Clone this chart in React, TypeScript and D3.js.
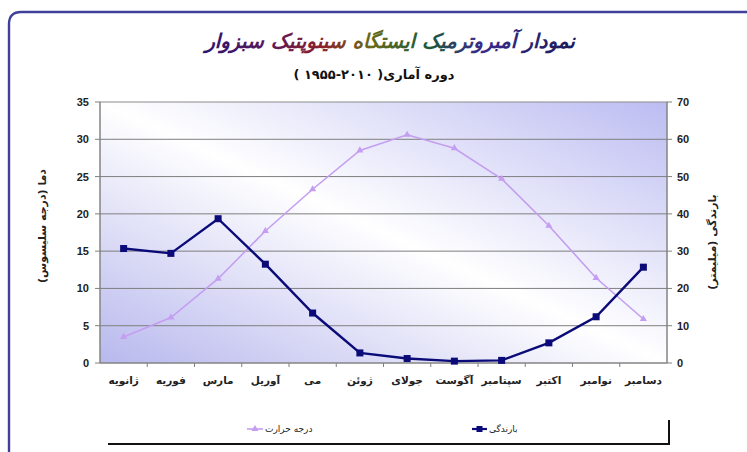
import React from "react";
import * as d3 from "d3";

const months = ["ژانویه", "فوریه", "مارس", "آوریل", "می", "ژوئن", "جولای", "آگوست", "سپتامبر", "اکتبر", "نوامبر", "دسامبر"];
const temperature = [3.5, 6.1, 11.3, 17.7, 23.3, 28.5, 30.6, 28.8, 24.7, 18.4, 11.4, 5.9];
const precipitation = [30.7, 29.4, 38.7, 26.5, 13.4, 2.7, 1.2, 0.5, 0.7, 5.4, 12.4, 25.7];
const leftTicks = [0, 5, 10, 15, 20, 25, 30, 35];
const rightTicks = [0, 10, 20, 30, 40, 50, 60, 70];
const title = "نمودار آمبروترمیک ایستگاه سینوپتیک سبزوار";
const subtitle = "دوره آماری( ۲۰۱۰-۱۹۵۵ )";
const leftTitle = "دما (درجه سلیسوس)";
const rightTitle = "بارندگی (میلیمتر)";
const legendTemp = "درجه حرارت";
const legendPrec = "بارندگی";

const W = 747, H = 452;
const L = 100, R = 667, T = 102, B = 363;
const fa = "'DejaVu Sans', sans-serif";
const num = "'Liberation Sans', Arial, sans-serif";

export default function App() {
  const x = d3.scaleBand<string>().domain(months).range([L, R]);
  const yL = d3.scaleLinear().domain([0, 35]).range([B, T]);
  const yR = d3.scaleLinear().domain([0, 70]).range([B, T]);
  const cx = (m: string) => (x(m) as number) + x.bandwidth() / 2;
  const tLine = d3.line<number>().x((_, i) => cx(months[i])).y((d) => yL(d));
  const pLine = d3.line<number>().x((_, i) => cx(months[i])).y((d) => yR(d));
  const tri = d3.symbol().type(d3.symbolTriangle).size(22);
  const tempColor = "#c49ef0";
  const precColor = "#0a0a78";

  return (
    <svg width={W} height={H} style={{ position: "absolute", left: 0, top: 0, background: "#fff" }}>
      <defs>
        <linearGradient id="bg" x1="0" y1="1" x2="1" y2="0">
          <stop offset="0" stopColor="#b8b8ee" />
          <stop offset="0.5" stopColor="#ffffff" />
          <stop offset="1" stopColor="#bcbcf2" />
        </linearGradient>
        <linearGradient id="tg" x1="0" y1="0" x2="1" y2="0">
          <stop offset="0" stopColor="#2a1670" />
          <stop offset="0.18" stopColor="#5a1a5a" />
          <stop offset="0.32" stopColor="#8a1f2c" />
          <stop offset="0.45" stopColor="#6a6a1a" />
          <stop offset="0.6" stopColor="#1f5a3a" />
          <stop offset="0.75" stopColor="#3a2a8a" />
          <stop offset="1" stopColor="#1a1a5a" />
        </linearGradient>
      </defs>
      <path d={`M${W},12 L21,12 Q9,12 9,24 L9,${H + 5}`} fill="none" stroke="#40409a" strokeWidth={2.4} />

      <text x={390} y={48} textAnchor="middle" direction="rtl" fontFamily={fa} fontWeight="bold" fontStyle="italic" fontSize={20} fill="url(#tg)">{title}</text>
      <text x={374} y={79} textAnchor="middle" direction="rtl" fontFamily={fa} fontWeight="bold" fontSize={13} fill="#111">{subtitle}</text>

      <rect x={L} y={T} width={R - L} height={B - T} fill="url(#bg)" stroke="#8c8c8c" strokeWidth={1} />
      {leftTicks.slice(1, -1).map((t) => (
        <line key={"g" + t} x1={L} x2={R} y1={yL(t)} y2={yL(t)} stroke="#7f7f7f" strokeWidth={1} />
      ))}
      <line x1={L} x2={L} y1={T} y2={B} stroke="#808080" />
      <line x1={R} x2={R} y1={T} y2={B} stroke="#808080" />
      <line x1={L} x2={R} y1={B} y2={B} stroke="#808080" />
      {leftTicks.map((t) => (
        <g key={"l" + t}>
          <line x1={L - 5} x2={L} y1={yL(t)} y2={yL(t)} stroke="#808080" />
          <text x={L - 11} y={yL(t) + 4} textAnchor="end" fontFamily={num} fontWeight="bold" fontSize={11} fill="#222">{t}</text>
        </g>
      ))}
      {rightTicks.map((t) => (
        <g key={"r" + t}>
          <line x1={R} x2={R + 5} y1={yR(t)} y2={yR(t)} stroke="#808080" />
          <text x={R + 10} y={yR(t) + 4} textAnchor="start" fontFamily={num} fontWeight="bold" fontSize={11} fill="#222">{t}</text>
        </g>
      ))}
      {months.map((m, i) => (
        <g key={"m" + i}>
          {i > 0 && <line x1={x(m)} x2={x(m)} y1={B} y2={B + 4} stroke="#808080" />}
          <text x={cx(m)} y={384} textAnchor="middle" direction="rtl" fontFamily={fa} fontWeight="bold" fontSize={10.5} fill="#222">{m}</text>
        </g>
      ))}

      <text transform={`translate(46,226) rotate(-90)`} textAnchor="middle" direction="rtl" fontFamily={fa} fontWeight="bold" fontSize={11} fill="#222">{leftTitle}</text>
      <text transform={`translate(716,242) rotate(-90)`} textAnchor="middle" direction="rtl" fontFamily={fa} fontWeight="bold" fontSize={11} fill="#222">{rightTitle}</text>

      <path d={tLine(temperature) as string} fill="none" stroke={tempColor} strokeWidth={1.6} />
      {temperature.map((v, i) => (
        <path key={"t" + i} d={tri() as string} transform={`translate(${cx(months[i])},${yL(v)})`} fill={tempColor} />
      ))}
      <path d={pLine(precipitation) as string} fill="none" stroke={precColor} strokeWidth={2.4} />
      {precipitation.map((v, i) => (
        <rect key={"p" + i} x={cx(months[i]) - 3.5} y={yR(v) - 3.5} width={7} height={7} fill={precColor} />
      ))}

      <path d="M108,444 L669,444 L669,420" fill="none" stroke="#111" strokeWidth={2} />
      <line x1={247} x2={263} y1={429} y2={429} stroke={tempColor} strokeWidth={1.6} />
      <path d={tri() as string} transform="translate(255,429)" fill={tempColor} />
      <text x={265} y={432} textAnchor="start" direction="ltr" fontFamily={fa} fontSize={9} fill="#222">{legendTemp}</text>
      <line x1={472} x2={487} y1={429} y2={429} stroke={precColor} strokeWidth={2.2} />
      <rect x={476.5} y={426} width={6} height={6} fill={precColor} />
      <text x={489} y={432} textAnchor="start" direction="ltr" fontFamily={fa} fontSize={9} fill="#222">{legendPrec}</text>
    </svg>
  );
}
